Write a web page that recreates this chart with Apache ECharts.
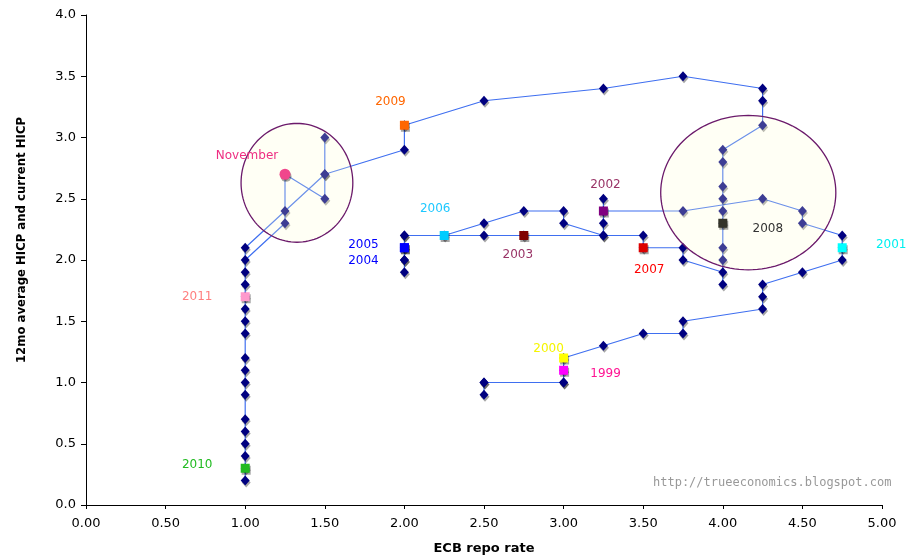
<html>
<head>
<meta charset="utf-8">
<script src="https://cdn.jsdelivr.net/npm/echarts@6/dist/echarts.min.js"></script>
<style>
  html, body { margin: 0; padding: 0; background: #fff; }
  #main { width: 913px; height: 560px; }
</style>
</head>
<body>
<div id="main"></div>
<script type="text/javascript">
  // path of the ECB repo rate vs HICP, 1999 -> Nov 2011
  var repoRate = [
    3.0, 3.0, 2.5, 2.5, 2.5, 3.0,
    3.0, 3.25, 3.5, 3.75, 3.75, 4.25, 4.25, 4.25, 4.5, 4.75,
    4.75, 4.75, 4.5, 4.5, 4.25, 3.75,
    3.25, 3.25, 3.25, 3.25,
    2.75, 2.5, 2.0, 2.0, 2.0,
    2.0, 2.0,
    2.0, 2.0,
    2.25, 2.5, 2.75, 3.0, 3.0, 3.25, 3.5,
    3.5, 3.75, 3.75, 4.0, 4.0, 4.0, 4.0,
    4.0, 4.0, 4.0, 4.0, 4.0, 4.0, 4.25, 4.25, 4.25, 3.75, 3.25, 2.5,
    2.0, 2.0, 1.5, 1.25, 1.0, 1.0, 1.0, 1.0, 1.0, 1.0, 1.0,
    1.0, 1.0, 1.0, 1.0, 1.0, 1.0, 1.0, 1.0,
    1.0, 1.0, 1.0, 1.25, 1.25, 1.5, 1.5, 1.5
  ];
  var hicp = [
    1.1, 1.0, 1.0, 0.9, 1.0, 1.0,
    1.2, 1.3, 1.4, 1.4, 1.5, 1.6, 1.7, 1.8, 1.9, 2.0,
    2.1, 2.2, 2.3, 2.4, 2.5, 2.4,
    2.4, 2.5, 2.3, 2.2,
    2.2, 2.2, 2.2, 2.0, 1.9,
    2.1, 2.0,
    2.1, 2.2,
    2.2, 2.3, 2.4, 2.4, 2.3, 2.2, 2.2,
    2.1, 2.1, 2.0, 1.9, 1.8, 2.0, 2.1,
    2.3, 2.4, 2.5, 2.6, 2.8, 2.9, 3.1, 3.3, 3.4, 3.5, 3.4, 3.3,
    3.1, 2.9, 2.7, 2.4, 2.1, 1.8, 1.5, 1.2, 0.9, 0.6, 0.4,
    0.3, 0.2, 0.5, 0.7, 1.0, 1.1, 1.4, 1.6,
    1.7, 1.9, 2.0, 2.3, 2.7, 2.5, 2.7, 3.0
  ];

  // year start markers
  var markNames = ['1999', '2000', '2001', '2002', '2003', '2004', '2005', '2006', '2007', '2008', '2009', '2010', '2011', 'November'];
  var markRate  = [3.0, 3.0, 4.75, 3.25, 2.75, 2.0, 2.0, 2.25, 3.5, 4.0, 2.0, 1.0, 1.0, 1.25];
  var markHicp  = [1.1, 1.2, 2.1, 2.4, 2.2, 2.1, 2.1, 2.2, 2.1, 2.3, 3.1, 0.3, 1.7, 2.7];

  // highlighted areas: centre and half-widths in axis units
  var ringRate = [1.325, 4.16];
  var ringHicp = [2.63, 2.55];
  var ringHalfW = [0.351, 0.55];
  var ringHalfH = [0.485, 0.63];

  var markStyle = {
    '1999':     { box: '#ff00ff', text: '#ff1493', off: [42, 4] },
    '2000':     { box: '#ffff00', text: '#f5f500', off: [-15, -9] },
    '2001':     { box: '#00ffff', text: '#00f0f0', off: [49, -3] },
    '2002':     { box: '#800080', text: '#993366', off: [2, -26] },
    '2003':     { box: '#800000', text: '#993366', off: [-6, 19] },
    '2004':     { box: '#0000ff', text: '#0000ff', off: [-41, 13] },
    '2005':     { box: '#0000ff', text: '#0000ff', off: [-41, -3] },
    '2006':     { box: '#00ccff', text: '#1ec8ff', off: [-9, -27] },
    '2007':     { box: '#dd0000', text: '#ff0000', off: [6, 22] },
    '2008':     { box: '#333328', text: '#333333', off: [45, 6] },
    '2009':     { box: '#ff6600', text: '#ff6600', off: [-14, -23] },
    '2010':     { box: '#22bb22', text: '#22bb22', off: [-48, -3] },
    '2011':     { box: '#ff99cc', text: '#ff7f7f', off: [-48, 0] },
    'November': { box: '#f0468c', text: '#ee2e82', off: [-38, -18] }
  };

  var pathData = [];
  for (var i = 0; i < repoRate.length; i++) {
    pathData.push([repoRate[i], hicp[i]]);
  }

  var markData = [];
  for (var j = 0; j < markNames.length; j++) {
    var st = markStyle[markNames[j]];
    markData.push({
      name: markNames[j],
      value: [markRate[j], markHicp[j]],
      symbol: markNames[j] === 'November' ? 'circle' : 'rect',
      symbolSize: markNames[j] === 'November' ? 11 : 9,
      itemStyle: { color: st.box, opacity: 1 },
      label: { color: st.text, offset: st.off }
    });
  }

  var ringData = [];
  for (var k = 0; k < ringRate.length; k++) {
    ringData.push([ringRate[k], ringHicp[k], ringHalfW[k], ringHalfH[k]]);
  }

  var fontFam = 'DejaVu Sans, Verdana, sans-serif';
  var myChart = echarts.init(document.getElementById('main'));
  var option = {
    animation: false,
    backgroundColor: '#ffffff',
    grid: { left: 86, right: 31, top: 15, bottom: 52 },
    xAxis: {
      type: 'value',
      min: 0, max: 5, interval: 0.5,
      name: 'ECB repo rate',
      nameLocation: 'middle',
      nameGap: 37,
      nameTextStyle: { color: '#000', fontWeight: 'bold', fontSize: 13, fontFamily: fontFam },
      axisLine: { lineStyle: { color: '#000', width: 1 } },
      axisTick: { length: 4, lineStyle: { color: '#000' } },
      axisLabel: {
        margin: 12, color: '#000', fontSize: 13, fontFamily: fontFam,
        formatter: function (v) { return v.toFixed(2); }
      },
      splitLine: { show: false }
    },
    yAxis: {
      type: 'value',
      min: 0, max: 4, interval: 0.5,
      name: '12mo average HICP and current HICP',
      nameLocation: 'middle',
      nameGap: 58,
      nameTextStyle: {
        color: '#000', fontWeight: 'bold', fontSize: 13,
        fontFamily: 'DejaVu Sans Condensed, DejaVu Sans, sans-serif',
        padding: [0, 0, 0, 40]
      },
      axisLine: { show: true, lineStyle: { color: '#000', width: 1 } },
      axisTick: { show: true, length: 5, lineStyle: { color: '#000' } },
      axisLabel: {
        margin: 10, color: '#000', fontSize: 13, fontFamily: fontFam,
        formatter: function (v) { return v.toFixed(1); }
      },
      splitLine: { show: false }
    },
    graphic: [
      {
        type: 'text',
        left: 653,
        top: 477,
        style: {
          text: 'http://trueeconomics.blogspot.com',
          fill: '#999999',
          font: '12px DejaVu Sans Mono, monospace'
        }
      }
    ],
    series: [
      {
        name: 'path',
        type: 'line',
        data: pathData,
        z: 2,
        symbol: 'diamond',
        symbolSize: [9, 10],
        showAllSymbol: true,
        lineStyle: { color: '#3f6ff0', width: 1.2 },
        itemStyle: {
          color: '#000080',
          shadowColor: 'rgba(0,0,0,0.35)',
          shadowBlur: 0,
          shadowOffsetX: 1,
          shadowOffsetY: 2
        },
        emphasis: { disabled: true }
      },
      {
        name: 'rings',
        type: 'custom',
        z: 3,
        silent: true,
        data: ringData,
        renderItem: function (params, api) {
          var c = api.coord([api.value(0), api.value(1)]);
          var s = api.size([api.value(2), api.value(3)]);
          var pts = [];
          for (var n = 0; n < 120; n++) {
            var a = n / 120 * Math.PI * 2;
            pts.push([c[0] + s[0] * Math.cos(a), c[1] + s[1] * Math.sin(a)]);
          }
          return {
            type: 'polygon',
            shape: { points: pts },
            style: { fill: 'rgba(255,255,215,0.24)', stroke: '#6b1a6b', lineWidth: 1.3 }
          };
        }
      },
      {
        name: 'years',
        type: 'scatter',
        z: 4,
        data: markData,
        itemStyle: {
          opacity: 1,
          shadowColor: 'rgba(0,0,0,0.35)',
          shadowBlur: 0,
          shadowOffsetX: 1,
          shadowOffsetY: 2
        },
        label: {
          show: true,
          position: 'inside',
          fontSize: 12,
          fontFamily: fontFam,
          formatter: '{b}'
        },
        emphasis: { disabled: true }
      }
    ]
  };
  myChart.setOption(option);
  window.onresize = myChart.resize;
</script>
</body>
</html>
